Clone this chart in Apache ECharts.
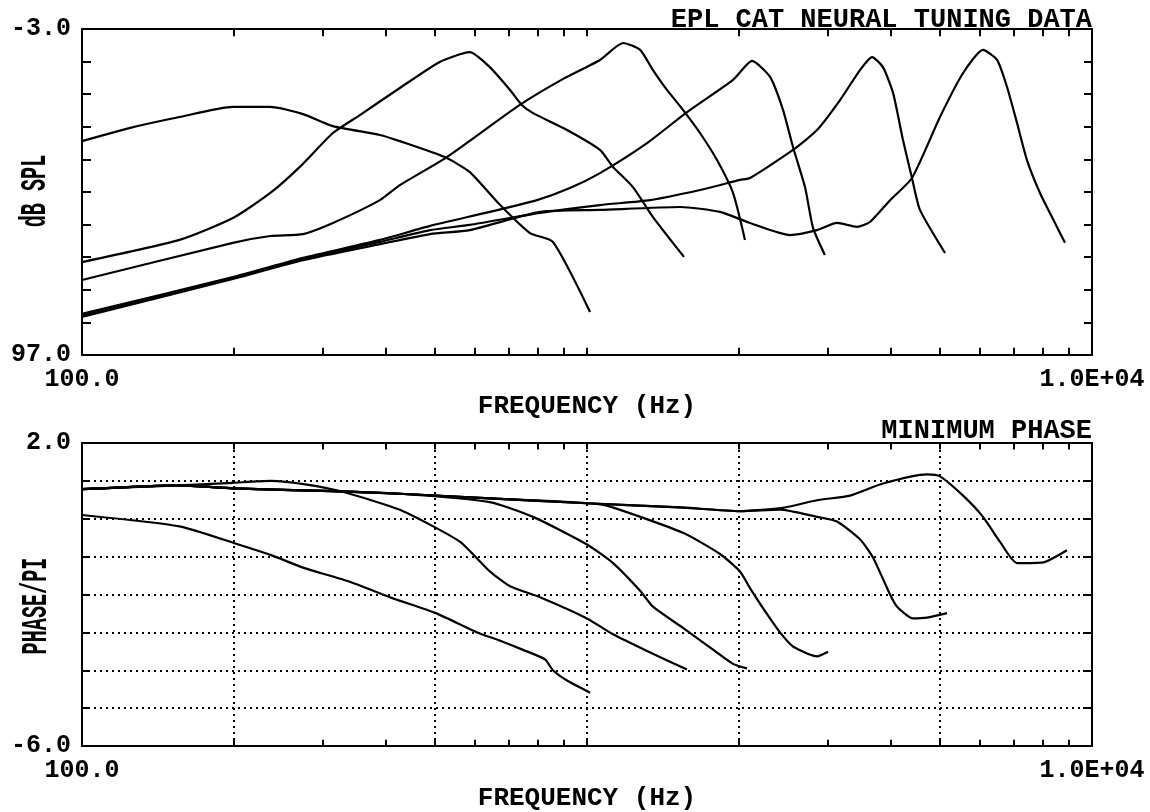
<!DOCTYPE html>
<html><head><meta charset="utf-8">
<script src="https://cdn.jsdelivr.net/npm/echarts@6/dist/echarts.min.js"></script>
<style>html,body{margin:0;padding:0;background:#fff}#c{width:1150px;height:812px}</style>
</head><body><div id="c"></div>
<script>
const FONT = '"Liberation Mono","Courier New",monospace';

// ---- tick / grid positions (Hz) ----
const tickFreqs = [200,300,400,500,600,700,800,900,1000,2000,3000,4000,5000,6000,7000,8000,9000];
const gridFreqs = [200,500,1000,2000,5000];

// ---- magnitude (dB SPL threshold) curves ----
const magFreqA = [100,124,156,199,236,274,314,389,426,523,586,673,771,856,1014];
const magA     = [31.4,27.4,24.0,20.9,20.9,23.1,26.8,29.5,31.4,36.3,40.9,51.0,59.6,62.3,83.8];
const magFreqB = [100,156,199,236,270,314,355,426,511,586,642,704,743,782,913,1061,1126,1233,1351,1556];
const magB     = [68.5,61.7,55.0,47.3,39.3,28.9,23.4,15.1,7.1,4.1,8.7,15.7,20.3,22.8,28.0,34.1,39.3,45.5,54.7,66.9];
const magFreqC = [100,199,236,274,314,389,426,528,736,897,1061,1179,1274,1351,1440,1549,1674,1809,1946,2055];
const magC     = [74.0,62.6,60.5,59.9,56.5,49.5,44.9,36.3,20.3,12.3,6.5,1.3,3.4,9.6,15.7,21.8,28.9,37.2,47.3,61.7];
const magFreqD = [100,199,274,389,489,642,796,925,1061,1315,1578,1946,2122,2304,2444,2558,2702,2803,2958];
const magD     = [84.4,73.1,67.2,61.7,57.4,53.1,49.5,45.8,41.2,32.0,22.5,12.6,6.8,11.7,21.8,33.2,45.5,58.0,66.3];
const magFreqE = [100,199,274,389,489,586,807,1061,1333,1674,2009,2103,2558,2854,3170,3472,3668,3855,4037,4223,4401,4564,5116];
const magE     = [85.0,73.4,67.6,62.3,58.7,57.1,53.4,51.0,49.5,46.4,43.3,42.7,34.1,28.0,18.8,9.6,5.6,8.7,16.6,31.0,42.7,52.5,65.7];
const magFreqF = [100,199,274,389,489,586,807,1061,1528,1834,2103,2523,2854,3126,3425,3634,3982,4401,5000,5556,6083,6486,6788,7104,7434,7888,8333,8842];
const magF     = [85.3,73.7,67.9,63.0,59.9,58.7,53.1,52.5,51.6,53.1,56.5,60.2,58.7,56.5,57.7,56.2,49.5,42.7,24.0,10.5,3.4,6.5,14.8,25.8,37.2,47.3,54.7,62.6];

// ---- minimum phase curves (phase / pi) ----
const phFreqA = [100,156,202,239,274,339,407,502,606,673,747,826,856,913,1014];
const phA     = [0.10,-0.20,-0.66,-0.98,-1.29,-1.66,-2.07,-2.49,-3.00,-3.22,-3.46,-3.71,-4.00,-4.27,-4.59];
const phFreqB = [100,156,199,236,279,335,426,496,561,594,642,704,807,1000,1126,1315,1578];
const phB     = [0.78,0.88,0.95,1.00,0.90,0.68,0.24,-0.20,-0.61,-0.93,-1.39,-1.78,-2.07,-2.63,-3.05,-3.49,-3.98];
const phFreqC = [100,156,199,314,426,642,782,1000,1126,1274,1351,1549,1729,1946,2074];
const phC     = [0.78,0.88,0.80,0.73,0.66,0.44,0.05,-0.68,-1.17,-1.90,-2.32,-2.88,-3.34,-3.83,-3.95];
const phFreqD = [100,156,199,314,426,642,1000,1111,1549,1834,2009,2103,2252,2411,2558,2854,3001];
const phD     = [0.78,0.88,0.80,0.73,0.66,0.54,0.41,0.32,-0.37,-0.93,-1.39,-1.83,-2.44,-3.00,-3.37,-3.63,-3.51];
const phFreqE = [100,156,199,314,426,642,1000,1528,2009,2411,2854,3126,3472,3684,3982,4111,4421,4713,5163];
const phE     = [0.78,0.88,0.80,0.73,0.66,0.54,0.41,0.30,0.20,0.24,0.05,-0.07,-0.54,-1.02,-2.00,-2.32,-2.63,-2.61,-2.49];
const phFreqF = [100,156,199,314,426,642,1000,1528,2009,2444,2854,3318,3855,4713,5000,5556,6083,6576,7104,7998,8919];
const phF     = [0.78,0.88,0.80,0.73,0.66,0.54,0.41,0.30,0.20,0.29,0.49,0.61,0.93,1.17,1.12,0.61,0.05,-0.61,-1.17,-1.15,-0.83];

const magSets = [[magFreqA,magA],[magFreqB,magB],[magFreqC,magC],[magFreqD,magD],[magFreqE,magE],[magFreqF,magF]];
const phSets  = [[phFreqA,phA],[phFreqB,phB],[phFreqC,phC],[phFreqD,phD],[phFreqE,phE],[phFreqF,phF]];

// axis ranges
const magMin = -3, magMax = 97, magStep = 10;
const phMin = -6, phMax = 2, phStep = 1;
// frame-tick length expressed in each plot's value units (about 7 px)
const magTickLen = 2.2, phTickLen = 0.17;

const pair = (fs, vs) => fs.map((f, i) => [f, vs[i]]);
const BLACK = '#000';
const lineAxis = {show: true, onZero: false, lineStyle: {color: BLACK, width: 2}};
const labelStyle = {fontFamily: FONT, fontWeight: 'bold', fontSize: 25, color: BLACK};

function mainX(grid) {
  return {
    type: 'log', logBase: 10, min: 100, max: 10000, gridIndex: grid, position: 'bottom',
    axisLine: lineAxis, axisTick: {show: false}, splitLine: {show: false},
    axisLabel: Object.assign({margin: 12, lineHeight: 26, formatter: v => {
      const r = Math.round(v);
      return r === 100 ? '100.0' : r === 10000 ? '1.0E+04' : '';
    }}, labelStyle),
    name: 'FREQUENCY (Hz)', nameLocation: 'middle', nameGap: 19,
    nameTextStyle: {fontFamily: FONT, fontWeight: 'bold', fontSize: 26, lineHeight: 26, color: BLACK}
  };
}
function topX(grid) {
  return {
    type: 'log', logBase: 10, min: 100, max: 10000, gridIndex: grid, position: 'top',
    axisLine: lineAxis, axisTick: {show: false}, axisLabel: {show: false}, splitLine: {show: false}
  };
}
function endLabel(lo, hi) {
  return v => {
    const s = (Math.round(v * 10) / 10);
    if (Math.abs(s - lo) < 1e-6) return lo.toFixed(1);
    if (Math.abs(s - hi) < 1e-6) return hi.toFixed(1);
    return '';
  };
}
// tick segments at the two frame edges, in data coordinates
function frameTicks(edgeA, edgeB, len) {
  const dirA = edgeB > edgeA ? 1 : -1;
  const out = [];
  tickFreqs.forEach(f => {
    out.push([{coord: [f, edgeA]}, {coord: [f, edgeA + dirA * len]}]);
    out.push([{coord: [f, edgeB]}, {coord: [f, edgeB - dirA * len]}]);
  });
  return out;
}
const tickMarkLine = data => ({
  silent: true, symbol: ['none', 'none'], label: {show: false}, animation: false,
  emphasis: {disabled: true},
  lineStyle: {color: BLACK, width: 2, type: 'solid'},
  data: data
});

const series = [];
magSets.forEach(([fs, vs], k) => {
  const s = {
    type: 'line', xAxisIndex: 0, yAxisIndex: 0, data: pair(fs, vs),
    symbol: 'none', smooth: 0.2, silent: true,
    lineStyle: {color: BLACK, width: 2.2}
  };
  if (k === 0) s.markLine = tickMarkLine(frameTicks(magMin, magMax, magTickLen));
  series.push(s);
});
phSets.forEach(([fs, vs], k) => {
  const s = {
    type: 'line', xAxisIndex: 2, yAxisIndex: 2, data: pair(fs, vs),
    symbol: 'none', smooth: 0.2, silent: true,
    lineStyle: {color: BLACK, width: 2.2}
  };
  if (k === 0) {
    s.markLine = {
      silent: true, symbol: ['none', 'none'], label: {show: false}, animation: false,
      lineStyle: {color: BLACK, width: 2, type: [2, 4]},
      emphasis: {disabled: true},
      data: gridFreqs.map(f => ({xAxis: f}))
    };
  }
  if (k === 1) s.markLine = tickMarkLine(frameTicks(phMin, phMax, phTickLen));
  series.push(s);
});

const option = {
  animation: false,
  backgroundColor: '#fff',
  title: [
    {text: 'EPL CAT NEURAL TUNING DATA', right: 58, top: 7, padding: 0,
     textStyle: {fontFamily: FONT, fontWeight: 'bold', fontSize: 27, color: BLACK}},
    {text: 'MINIMUM PHASE', right: 58, top: 418, padding: 0,
     textStyle: {fontFamily: FONT, fontWeight: 'bold', fontSize: 27, color: BLACK}}
  ],
  graphic: [
    {type: 'text', x: 36, y: 191, rotation: Math.PI / 2, scaleX: 0.56, silent: true,
     style: {text: 'dB SPL', fontFamily: FONT, fontWeight: 'bold', fontSize: 36, fill: BLACK, align: 'center', verticalAlign: 'middle'}},
    {type: 'text', x: 37, y: 606, rotation: Math.PI / 2, scaleX: 0.56, silent: true,
     style: {text: 'PHASE/PI', fontFamily: FONT, fontWeight: 'bold', fontSize: 36, fill: BLACK, align: 'center', verticalAlign: 'middle'}}
  ],
  grid: [
    {left: 82, top: 29, width: 1010, height: 326},
    {left: 82, top: 443, width: 1010, height: 328}
  ],
  xAxis: [mainX(0), topX(0), mainX(1), topX(1)],
  yAxis: [
    {type: 'value', gridIndex: 0, position: 'left', inverse: true, min: magMin, max: magMax, interval: magStep,
     axisLine: lineAxis, axisTick: {inside: true, length: 9, lineStyle: {color: BLACK, width: 2}},
     splitLine: {show: false},
     axisLabel: Object.assign({margin: 11, formatter: endLabel(magMin, magMax)}, labelStyle)},
    {type: 'value', gridIndex: 0, position: 'right', inverse: true, min: magMin, max: magMax, interval: magStep,
     axisLine: lineAxis, axisTick: {inside: true, length: 8, lineStyle: {color: BLACK, width: 2}},
     splitLine: {show: false}, axisLabel: {show: false}},
    {type: 'value', gridIndex: 1, position: 'left', min: phMin, max: phMax, interval: phStep,
     axisLine: lineAxis, axisTick: {inside: true, length: 8, lineStyle: {color: BLACK, width: 2}},
     splitLine: {show: true, showMinLine: false, showMaxLine: false, lineStyle: {color: BLACK, width: 2, type: [2, 4]}},
     axisLabel: Object.assign({margin: 11, formatter: endLabel(phMin, phMax)}, labelStyle)},
    {type: 'value', gridIndex: 1, position: 'right', min: phMin, max: phMax, interval: phStep,
     axisLine: lineAxis, axisTick: {inside: true, length: 9, lineStyle: {color: BLACK, width: 2}},
     splitLine: {show: false}, axisLabel: {show: false}}
  ],
  series: series
};

const chart = echarts.init(document.getElementById('c'));
chart.setOption(option);
</script>
</body></html>
